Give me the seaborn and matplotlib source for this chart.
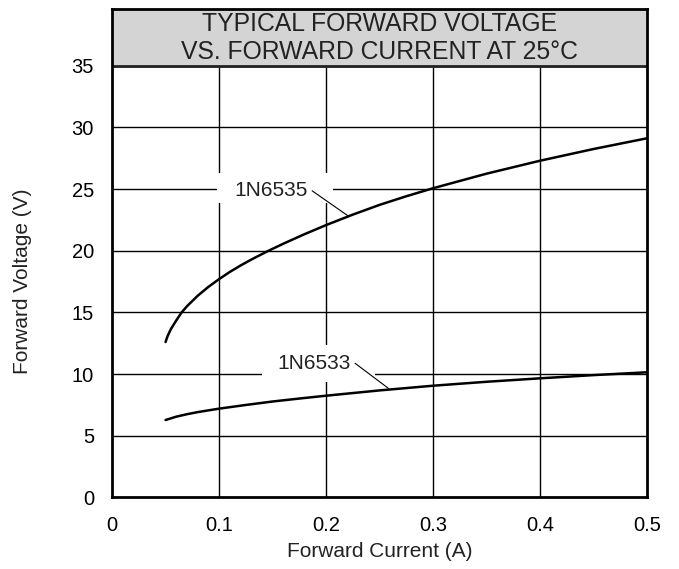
import numpy as np
import pandas as pd
import matplotlib
matplotlib.use('Agg')
import matplotlib.pyplot as plt
from matplotlib.patches import Rectangle
import seaborn as sns

# values
current_6535 = [0.05, 0.052, 0.055, 0.06, 0.065, 0.07, 0.08, 0.09, 0.10, 0.11, 0.12, 0.13, 0.145,
                0.16, 0.18, 0.20, 0.225, 0.25, 0.275, 0.30, 0.35, 0.40, 0.45, 0.50]
voltage_6535 = [12.6, 13.1, 13.65, 14.35, 15.0, 15.5, 16.35, 17.07, 17.7, 18.28, 18.8, 19.28, 19.95,
                20.57, 21.35, 22.08, 22.93, 23.72, 24.42, 25.07, 26.25, 27.3, 28.25, 29.12]

current_6533 = [0.05, 0.06, 0.07, 0.08, 0.10, 0.125, 0.15, 0.175, 0.20, 0.25, 0.30, 0.35, 0.40, 0.45, 0.50]
voltage_6533 = [6.28, 6.55, 6.75, 6.92, 7.2, 7.5, 7.78, 8.02, 8.25, 8.68, 9.06, 9.38, 9.66, 9.92, 10.15]

x_ticks = [0, 0.1, 0.2, 0.3, 0.4, 0.5]
x_tick_labels = ['0', '0.1', '0.2', '0.3', '0.4', '0.5']
y_ticks = [0, 5, 10, 15, 20, 25, 30, 35]

df = pd.concat([
    pd.DataFrame({'current': current_6535, 'voltage': voltage_6535, 'device': '1N6535'}),
    pd.DataFrame({'current': current_6533, 'voltage': voltage_6533, 'device': '1N6533'}),
])

sns.set_style('white')
plt.rcParams['font.family'] = ['Liberation Sans', 'DejaVu Sans']

fig = plt.figure(figsize=(6.79, 5.69), dpi=100)
ax = fig.add_axes([0.165, 0.1257, 0.788, 0.8585])

y_top = 39.6
ax.set_xlim(0, 0.5)
ax.set_ylim(0, y_top)

# grid only inside the 0..35 area
ax.vlines(x_ticks[1:-1], 0, 35, color='black', linewidth=1, zorder=1)
ax.hlines(y_ticks[1:], 0, 0.5, color='black', linewidth=1, zorder=1)
ax.hlines(35, 0, 0.5, color='#222222', linewidth=2, zorder=3)
ax.axhspan(35, y_top, color='#d4d4d4', zorder=2)

# white patches behind the device labels
ax.add_patch(Rectangle((0.098, 23.87), 0.1085, 2.43, facecolor='white', edgecolor='none', zorder=2))
ax.add_patch(Rectangle((0.1402, 9.38), 0.1056, 2.98, facecolor='white', edgecolor='none', zorder=2))

sns.lineplot(data=df, x='current', y='voltage', hue='device', units='device', estimator=None,
             palette={'1N6535': 'black', '1N6533': 'black'}, linewidth=1.8, legend=False,
             sort=False, ax=ax, zorder=4)

ax.text(0.25, 37.25, 'TYPICAL FORWARD VOLTAGE\nVS. FORWARD CURRENT AT 25°C', ha='center', va='center',
        fontsize=17.8, color='#222222', linespacing=1.22, zorder=5)

ax.text(0.149, 24.86, '1N6535', ha='center', va='center', fontsize=15, color='#222222', zorder=5)
ax.plot([0.187, 0.2215], [24.86, 22.77], color='black', linewidth=0.8, zorder=5)
ax.text(0.1888, 10.88, '1N6533', ha='center', va='center', fontsize=15, color='#222222', zorder=5)
ax.plot([0.2271, 0.2582], [10.88, 8.85], color='black', linewidth=0.8, zorder=5)

ax.set_xticks(x_ticks)
ax.set_xticklabels(x_tick_labels)
ax.set_yticks(y_ticks)
ax.tick_params(axis='both', length=0, labelsize=14.5, colors='black', pad=13)

ax.set_xlabel('Forward Current (A)', fontsize=15, color='#222222')
ax.xaxis.set_label_coords(0.5, -0.1116)
ax.xaxis.label.set_va('center')
ax.set_ylabel('Forward Voltage (V)', fontsize=15, color='#222222')
ax.yaxis.set_label_coords(-0.168, 17.5 / y_top)
ax.yaxis.label.set_va('center')

for side in ['left', 'right', 'top', 'bottom']:
    ax.spines[side].set_visible(True)
    ax.spines[side].set_color('black')
    ax.spines[side].set_linewidth(2)
    ax.spines[side].set_zorder(6)

fig.savefig('out.png', dpi=100)
